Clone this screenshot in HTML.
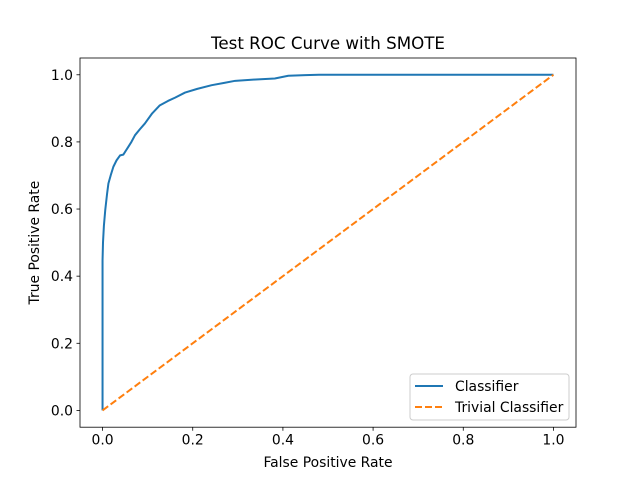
<!DOCTYPE html>
<html><head><meta charset="utf-8"><style>
body{margin:0;background:#fff}
svg text{font-family:"DejaVu Sans","Liberation Sans",sans-serif;fill:#000}
</style></head><body>
<svg width="640" height="480" xmlns="http://www.w3.org/2000/svg">
<rect width="640" height="480" fill="#fff"/>
<g id="plot"></g>
<text x="328" y="49" font-size="16.7" text-anchor="middle">Test ROC Curve with SMOTE</text>
<text x="328" y="467" font-size="13.9" text-anchor="middle">False Positive Rate</text>
<text x="0" y="0" font-size="13.9" text-anchor="middle" transform="translate(39,242.6) rotate(-90)">True Positive Rate</text>
<g>
<rect x="410" y="374" width="159" height="46" rx="3" fill="#fff" fill-opacity="0.8" stroke="#ccc"/>
<line x1="415" y1="386" x2="443" y2="386" stroke="#1f77b4" stroke-width="2"/>
<text x="455" y="391" font-size="13.9">Classifier</text>
<line x1="415" y1="407" x2="443" y2="407" stroke="#ff7f0e" stroke-width="2" stroke-dasharray="7,3"/>
<text x="455" y="412" font-size="13.9">Trivial Classifier</text>
</g>
</svg>
<script>
const fpr=[0,0,0.001,0.003,0.006,0.01,0.013,0.018,0.024,0.031,0.039,0.046,0.057,0.064,0.072,0.083,0.094,0.11,0.127,0.145,0.161,0.183,0.21,0.242,0.27,0.294,0.34,0.382,0.412,0.45,0.48,1.0];
const tpr=[0,0.447,0.5,0.55,0.597,0.645,0.676,0.70,0.726,0.745,0.760,0.762,0.785,0.80,0.820,0.838,0.855,0.885,0.909,0.922,0.932,0.947,0.958,0.969,0.976,0.982,0.986,0.989,0.997,0.999,1.0,1.0];
const trivialX=[0,1];
const trivialY=[0,1];
const xTicks=[0,0.2,0.4,0.6,0.8,1.0];
const yTicks=[0,0.2,0.4,0.6,0.8,1.0];
const L=80,R=576,T=58,B=427.2;
const sx=v=>L+(v+0.05)/1.1*(R-L);
const sy=v=>B-(v+0.05)/1.1*(B-T);
const NS='http://www.w3.org/2000/svg';
const g=document.getElementById('plot');
function mk(t,a){const e=document.createElementNS(NS,t);for(const k in a)e.setAttribute(k,a[k]);g.appendChild(e);return e;}
xTicks.forEach(v=>{
 const l=mk('line',{x1:sx(v),x2:sx(v),y1:B,y2:B+3.5,stroke:'#000','stroke-width':0.8});
 
 
 const t=mk('text',{x:sx(v),y:B+17.5,'font-size':13.9,'text-anchor':'middle'});t.textContent=v.toFixed(1);
 
 
});
yTicks.forEach(v=>{
 const l=mk('line',{x1:L-3.5,x2:L,y1:sy(v),y2:sy(v),stroke:'#000','stroke-width':0.8});
 
 
 const t=mk('text',{x:L-7,y:sy(v)+5,'font-size':13.9,'text-anchor':'end'});t.textContent=v.toFixed(1);
 
 
});
const roc=mk('polyline',{points:fpr.map((x,i)=>sx(x)+','+sy(tpr[i])).join(' '),fill:'none',stroke:'#1f77b4','stroke-width':2,'stroke-linejoin':'round'});


const tr=mk('polyline',{points:trivialX.map((x,i)=>sx(x)+','+sy(trivialY[i])).join(' '),fill:'none',stroke:'#ff7f0e','stroke-width':2,'stroke-dasharray':'7,3'});


const fr=mk('rect',{x:L,y:T,width:R-L,height:B-T,fill:'none',stroke:'#000','stroke-width':0.8});


</script>
</body></html>
